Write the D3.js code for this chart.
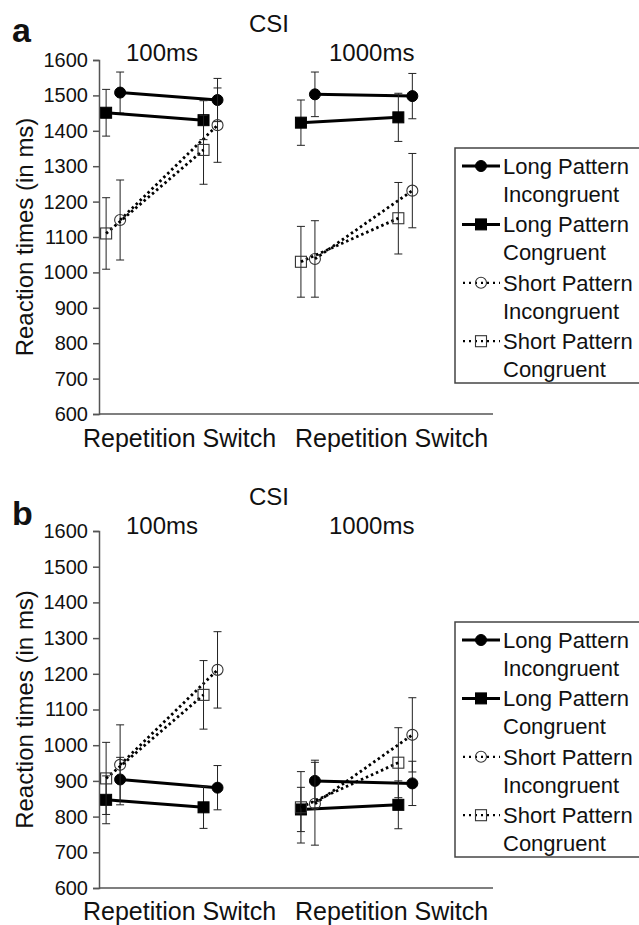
<!DOCTYPE html>
<html>
<head>
  <meta charset="utf-8">
  <title>CSI reaction times</title>
  <script src="https://d3js.org/d3.v7.min.js"></script>
  <style>
    body { margin: 0; background: #fff; }
    text { font-family: "Liberation Sans", Arial, sans-serif; fill: #111; }
  </style>
</head>
<body>
  <script>
    // categories along x (two CSI conditions, each Repetition / Switch)
    const csiLabels = ["100ms", "1000ms"];
    const trialTypes = ["Repetition", "Switch", "Repetition", "Switch"];
    const seriesNames = ["Long Pattern Incongruent", "Long Pattern Congruent",
                         "Short Pattern Incongruent", "Short Pattern Congruent"];
    const yTicks = [600, 700, 800, 900, 1000, 1100, 1200, 1300, 1400, 1500, 1600];

    // panel a means / error bars
    const aLongInc = [1508, 1487, 1503, 1498];
    const aLongCon = [1451, 1430, 1423, 1438];
    const aShortInc = [1148, 1416, 1038, 1231];
    const aShortCon = [1110, 1346, 1030, 1153];
    const aLongIncErr = [58, 61, 63, 64];
    const aLongConErr = [66, 55, 64, 68];
    const aShortIncErr = [113, 105, 108, 105];
    const aShortConErr = [101, 97, 100, 101];

    // panel b means / error bars
    const bLongInc = [904, 881, 900, 893];
    const bLongCon = [847, 826, 820, 833];
    const bShortInc = [945, 1211, 836, 1029];
    const bShortCon = [907, 1141, 826, 951];
    const bLongIncErr = [62, 62, 58, 62];
    const bLongConErr = [67, 59, 62, 67];
    const bShortIncErr = [112, 107, 116, 104];
    const bShortConErr = [101, 96, 100, 98];

    const width = 639, height = 925;
    const svg = d3.select('body').append('svg')
      .attr('width', width).attr('height', height);

    // x: index of condition, shared by both panels
    const x = d3.scaleLinear().domain([-0.145, 3.9]).range([99, 493]);

    // marker style per series: incongruent = circle (+7), congruent = square (-7)
    const styles = [
      {shape: 'circle', filled: true, dashed: false, dx: 7},
      {shape: 'square', filled: true, dashed: false, dx: -7},
      {shape: 'circle', filled: false, dashed: true, dx: 7},
      {shape: 'square', filled: false, dashed: true, dx: -7}
    ];

    function marker(g, st, cx, cy) {
      if (st.shape === 'circle') {
        g.append('circle').attr('cx', cx).attr('cy', cy).attr('r', 5.5)
          .attr('fill', st.filled ? '#000' : 'none')
          .attr('stroke', st.filled ? '#000' : '#333').attr('stroke-width', st.filled ? 1 : 1.1);
      } else {
        g.append('rect').attr('x', cx - 5.5).attr('y', cy - 5.5)
          .attr('width', 11).attr('height', 11)
          .attr('fill', st.filled ? '#000' : 'none')
          .attr('stroke', st.filled ? '#000' : '#333').attr('stroke-width', st.filled ? 1 : 1.1);
      }
    }

    function drawPanel(opt) {
      const g = svg.append('g');
      const y = d3.scaleLinear().domain([600, 1600]).range([opt.y0, opt.y1]);

      // y axis
      const yAxis = d3.axisLeft(y).tickValues(yTicks).tickFormat(d3.format('d'))
        .tickSize(6).tickPadding(5);
      const ya = g.append('g').attr('transform', 'translate(99,0)').call(yAxis)
        .attr('font-size', 20).attr('font-family', '"Liberation Sans", Arial, sans-serif');
      ya.select('.domain').attr('stroke', '#555').attr('stroke-width', 1.5);
      ya.selectAll('.tick line').attr('stroke', '#555').attr('stroke-width', 1.5);
      ya.selectAll('.tick text').attr('fill', '#111').style('font-size', '20px');

      // x axis line (no ticks)
      g.append('line').attr('x1', 99).attr('x2', x(3.9))
        .attr('y1', y(600)).attr('y2', y(600))
        .attr('stroke', '#555').attr('stroke-width', 1.5);

      // category labels, one per CSI condition
      [83, 295].forEach((lx, c) => {
        g.append('text').attr('x', lx).attr('y', opt.labY)
          .style('font-size', '25px')
          .text(trialTypes[c * 2] + ' ' + trialTypes[c * 2 + 1]);
      });

      // titles
      g.append('text').attr('x', 12).attr('y', opt.letterY)
        .style('font-size', '34px').style('font-weight', 'bold').text(opt.letter);
      g.append('text').attr('x', 249).attr('y', opt.csiY).style('font-size', '24px').text('CSI');
      g.append('text').attr('x', 126).attr('y', opt.subY).style('font-size', '24px').text(csiLabels[0]);
      g.append('text').attr('x', 329).attr('y', opt.subY).style('font-size', '24px').text(csiLabels[1]);

      g.append('text')
        .attr('transform', `translate(33,${(opt.y0 + opt.y1) / 2}) rotate(-90)`)
        .attr('text-anchor', 'middle').style('font-size', '24px')
        .text('Reaction times (in ms)');

      // series
      opt.series.forEach((vals, s) => {
        const st = styles[s];
        const errs = opt.errors[s];
        const pts = vals.map((v, i) => ({x: x(i) + st.dx, y: y(v), lo: y(v - errs[i]), hi: y(v + errs[i])}));
        // error bars
        pts.forEach(p => {
          g.append('line').attr('x1', p.x).attr('x2', p.x).attr('y1', p.lo).attr('y2', p.hi)
            .attr('stroke', '#222').attr('stroke-width', 1);
          [p.lo, p.hi].forEach(yy => g.append('line')
            .attr('x1', p.x - 4).attr('x2', p.x + 4).attr('y1', yy).attr('y2', yy)
            .attr('stroke', '#222').attr('stroke-width', 1));
        });
        // lines within each CSI condition
        [[0, 1], [2, 3]].forEach(([a, b]) => {
          const ln = g.append('line')
            .attr('x1', pts[a].x).attr('y1', pts[a].y).attr('x2', pts[b].x).attr('y2', pts[b].y)
            .attr('stroke', '#000').attr('stroke-width', 3);
          if (st.dashed) ln.attr('stroke-dasharray', '2.5,3').attr('stroke-width', 2.8);
        });
        pts.forEach(p => marker(g, st, p.x, p.y));
      });

      // legend (box runs off the right edge)
      g.append('rect').attr('x', 455).attr('y', opt.legY).attr('width', 200).attr('height', 235)
        .attr('fill', 'none').attr('stroke', '#444').attr('stroke-width', 1.5);
      seriesNames.forEach((name, i) => {
        const st = styles[i];
        const my = opt.legY + 18 + i * 58.4;
        const ln = g.append('line').attr('x1', 462).attr('x2', 500).attr('y1', my).attr('y2', my)
          .attr('stroke', '#000').attr('stroke-width', 3);
        if (st.dashed) ln.attr('stroke-dasharray', '2,4').attr('stroke-width', 2.2).attr('x1', 463);
        marker(g, st, 481, my);
        const words = name.split(' ');
        g.append('text').attr('x', 503).attr('y', my + 8).style('font-size', '22px')
          .text(words[0] + ' ' + words[1]);
        g.append('text').attr('x', 503).attr('y', my + 36).style('font-size', '22px')
          .text(words[2]);
      });
    }

    drawPanel({
      letter: 'a', letterY: 42, csiY: 32, subY: 61,
      y0: 414, y1: 60, labY: 447, legY: 148,
      series: [aLongInc, aLongCon, aShortInc, aShortCon],
      errors: [aLongIncErr, aLongConErr, aShortIncErr, aShortConErr]
    });
    drawPanel({
      letter: 'b', letterY: 525, csiY: 505, subY: 534,
      y0: 888, y1: 531, labY: 920, legY: 622,
      series: [bLongInc, bLongCon, bShortInc, bShortCon],
      errors: [bLongIncErr, bLongConErr, bShortIncErr, bShortConErr]
    });
  </script>
</body>
</html>
